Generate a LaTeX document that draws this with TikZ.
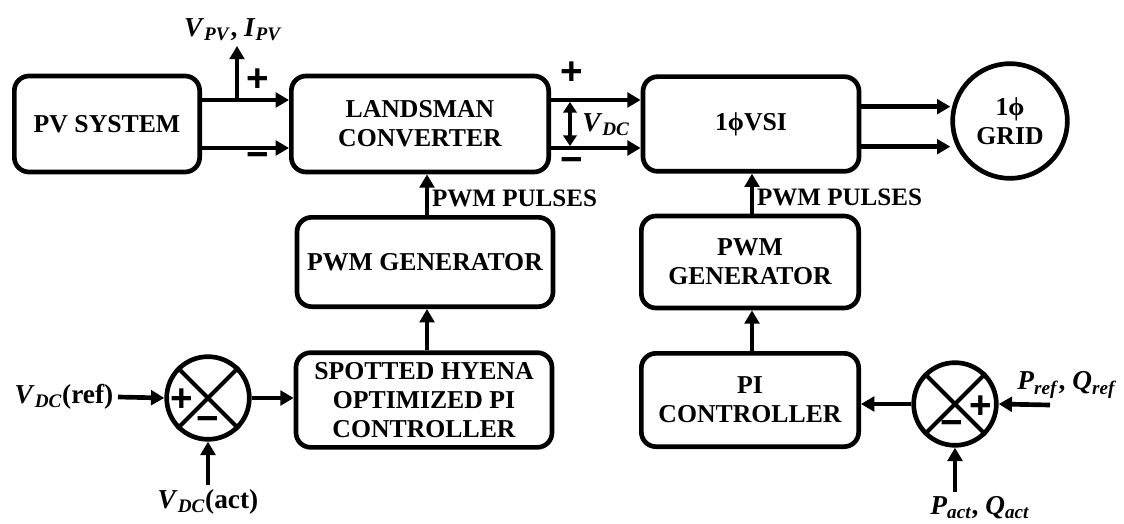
\documentclass[tikz,border=0pt]{standalone}
\usepackage{fontspec}
\setmainfont{Liberation Serif}
\newfontfamily\signfont{Liberation Sans}
\usetikzlibrary{arrows.meta,positioning,calc}
\newcommand{\sig}[2]{\textit{#1}\textsubscript{\textit{#2}}}

\begin{document}
\begin{tikzpicture}[
      x=0.75pt, y=-0.75pt,
      font=\bfseries\fontsize{19.3}{22}\selectfont,
      block/.style={draw, line width=3.5pt, rounded corners=11pt, align=center, inner sep=2pt},
      sumjn/.style={draw, circle, line width=3.5pt, minimum size=62pt, inner sep=0pt},
      sign/.style={font=\signfont\bfseries\fontsize{29}{29}\selectfont, inner sep=0pt},
      quantity/.style={font=\bfseries\fontsize{20.5}{24}\selectfont},
      arrow/.style={-{Triangle[length=10pt, width=11pt]}, line width=3.5pt},
      flow/.style={font=\bfseries\fontsize{18.8}{22}\selectfont, right=1pt, inner sep=1pt}
    ]
    \useasboundingbox (0,0) rectangle (1124,524);

    % top row
    \node[block, minimum width=139pt, minimum height=72pt] (pv) at (107,124) {PV SYSTEM};
    \node[block, minimum width=193pt, minimum height=72pt] (land) at (420,124) {LANDSMAN\\CONVERTER};
    \node[block, minimum width=162pt, minimum height=71pt] (vsi) at (751,124) {1ϕVSI};
    \node[draw, circle, line width=3.5pt, minimum size=86pt, align=center, inner sep=0pt] (grid) at (1010,121) {1ϕ\\GRID};

    % left control chain
    \node[block, minimum width=192pt, minimum height=67pt] (pwmL) at (425,262) {PWM GENERATOR};
    \node[block, minimum width=192pt, minimum height=71pt] (shpi) at (424,400) {SPOTTED HYENA\\OPTIMIZED PI\\CONTROLLER};
    \node[sumjn] (sumL) at (208,398) {};
    \node[quantity] (vdcref) at (64,397) {\sig{V}{DC}(ref)};
    \node[quantity] (vdcact) at (208,502) {\sig{V}{DC}(act)};

    % right control chain
    \node[block, minimum width=163pt, minimum height=69pt] (pwmR) at (750,262) {PWM\\GENERATOR};
    \node[block, minimum width=163pt, minimum height=70pt] (pi) at (750,400) {PI\\CONTROLLER};
    \node[sumjn] (sumR) at (955,404) {};
    \node[quantity] (pref) at (1067,385) {\sig{P}{ref}, \sig{Q}{ref}};
    \node[quantity] (pact) at (980,508) {\sig{P}{act}, \sig{Q}{act}};

    % crosses inside the summing junctions
    \foreach \s in {sumL, sumR} {
      \draw[line width=3pt] (\s.45) -- (\s.225);
      \draw[line width=3pt] (\s.135) -- (\s.-45);
    }
    \node[sign] at (182,400) {+};
    \node[sign] at (208,424) {−};
    \node[sign] at (981,407) {+};
    \node[sign] at (952,428) {−};

    % power path
    \draw[arrow] ([yshift=18pt]pv.east) -- ([yshift=18pt]land.west);
    \draw[arrow] ([yshift=-18pt]pv.east) -- ([yshift=-18pt]land.west);
    \coordinate (tap) at (237,100);
    \node[quantity] (vpv) at (233,30) {\sig{V}{PV}, \sig{I}{PV}};
    \draw[arrow] (tap) -- (tap |- vpv.south);
    \node[sign] at (258,80) {+};
    \node[sign] at (258,160) {−};

    \draw[arrow] ([yshift=18pt]land.east) -- ([yshift=18pt]vsi.west);
    \draw[arrow] ([yshift=-18pt]land.east) -- ([yshift=-18pt]vsi.west);
    \coordinate (dctop) at (570,102);
    \coordinate (dcbot) at (570,146);
    \draw[{Triangle[length=8pt, width=10pt]}-{Triangle[length=8pt, width=10pt]}, line width=3.5pt] (dctop) -- (dcbot);
    \node[quantity] (vdc) at (606,125) {\sig{V}{DC}};
    \node[sign] at (572,73) {+};
    \node[sign] at (572,165) {−};

    \draw[arrow] ([yshift=13pt]vsi.east) -- ([yshift=13pt]vsi.east -| grid.west);
    \draw[arrow] ([yshift=-17pt]vsi.east) -- ([yshift=-17pt]vsi.east -| grid.west);

    % control signals
    \draw[arrow] (pwmL.north -| 427,0) -- (land.south -| 427,0) node[flow, pos=0.4] {PWM PULSES};
    \draw[arrow] (shpi.north -| 427,0) -- (pwmL.south -| 427,0);
    \draw[arrow] (sumL.east) -- (shpi.west |- sumL.east);
    \draw[arrow] (vdcref.east) -- (sumL.west);
    \draw[arrow] (vdcact.north) -- (sumL.south);

    \draw[arrow] (pwmR.north -| 752,0) -- (vsi.south -| 752,0) node[flow, pos=0.4] {PWM PULSES};
    \draw[arrow] (pi.north -| 752,0) -- (pwmR.south -| 752,0);
    \draw[arrow] (sumR.west) -- (sumR.west -| pi.east);
    \coordinate (prefin) at (1050,405);
    \draw[arrow] (prefin) -- (sumR.east);
    \draw[arrow] (pact.north -| sumR) -- (sumR.south);
  \end{tikzpicture}
\end{document}
